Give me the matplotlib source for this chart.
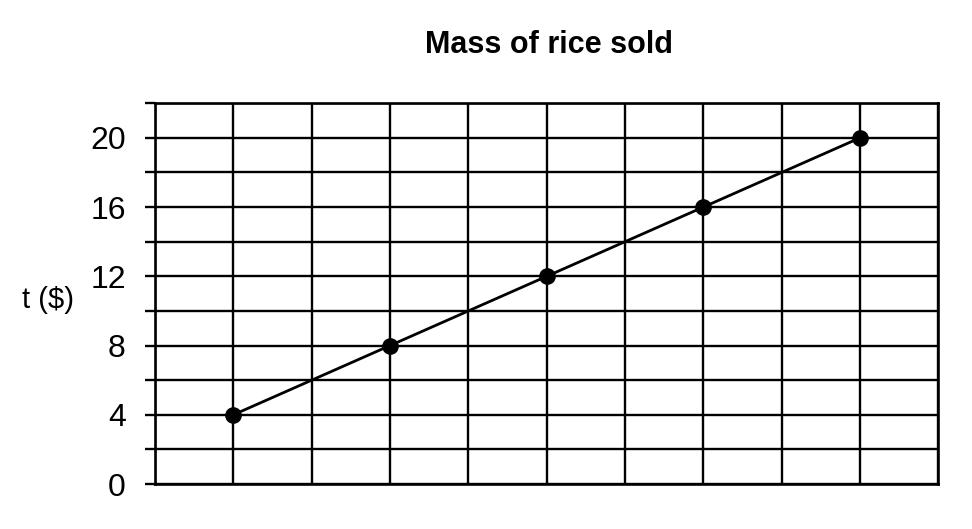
import matplotlib
matplotlib.use("Agg")
from matplotlib import pyplot as plt
import numpy as np

plt.rcParams['font.family'] = ['Liberation Sans', 'DejaVu Sans']

# data
x_vals = [1, 3, 5, 7, 9]
cost_vals = [4, 8, 12, 16, 20]
y_ticks = [0, 4, 8, 12, 16, 20]

fig = plt.figure(figsize=(9.72, 5.29), dpi=100)
ax = fig.add_axes([0.1595, 0.085, 0.806, 0.72])

ax.set_xlim(0, 10)
ax.set_ylim(0, 22)

# grid every column / every 2 units
ax.set_xticks(np.arange(0, 11, 1))
ax.set_yticks(np.arange(0, 23, 2), minor=True)
ax.set_yticks(y_ticks)
ax.grid(True, which='both', color='black', linewidth=1.7)
ax.set_axisbelow(True)
ax.tick_params(axis='x', length=0, labelbottom=False)
ax.tick_params(axis='y', which='both', length=7, width=1.7, direction='out')
ax.tick_params(axis='y', which='major', labelsize=23, pad=14)

for s in ax.spines.values():
    s.set_linewidth(1.9)

ax.plot(x_vals, cost_vals, color='black', linewidth=2, marker='o', markersize=11)

fig.text(0.565, 0.915, 'Mass of rice sold', ha='center', va='center',
         fontsize=22, fontweight='bold')
fig.text(0.023, 0.433, 't ($)', ha='left', va='center', fontsize=21)

fig.savefig('out.png', dpi=100)
